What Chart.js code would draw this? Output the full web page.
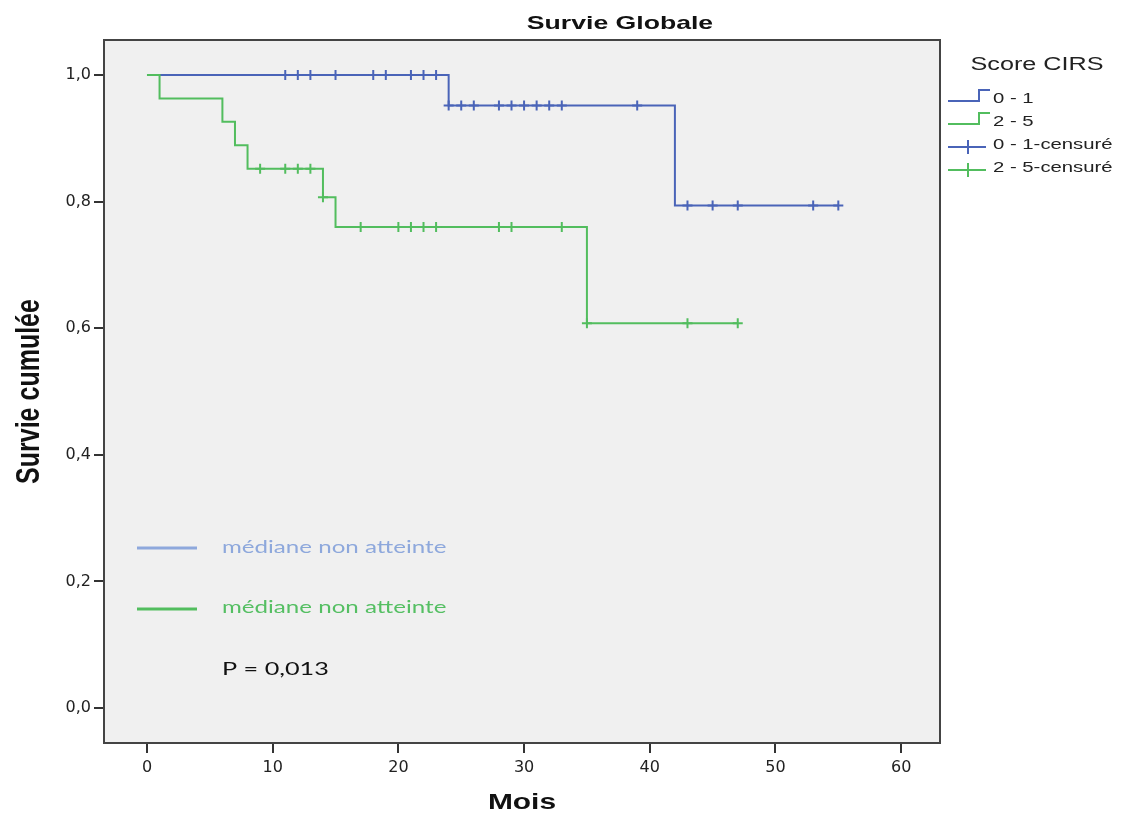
<!DOCTYPE html>
<html>
<head>
<meta charset="utf-8">
<script src="https://cdn.jsdelivr.net/npm/chart.js@4/dist/chart.umd.min.js"></script>
<style>
html,body{margin:0;padding:0;background:#fff;}
#wrap{width:1140px;height:816px;}
</style>
</head>
<body>
<div id="wrap"><canvas id="c" width="1140" height="816"></canvas></div>
<script>
// ---- data ----
const chartTitle = 'Survie Globale';
const xAxisTitle = 'Mois';
const yAxisTitle = 'Survie cumulée';
const xTickValues = [0, 10, 20, 30, 40, 50, 60];
const yTickValues = [0, 0.2, 0.4, 0.6, 0.8, 1.0];
const yTickLabels = ['0,0', '0,2', '0,4', '0,6', '0,8', '1,0'];

const blueEventTimes = [0, 24, 42];
const blueSurvival   = [1.0, 0.952, 0.794];
const blueLastTime   = 55;
const blueCensored   = [11, 12, 13, 15, 18, 19, 21, 22, 23, 24, 25, 26, 28, 29, 30, 31, 32, 33, 39, 43, 45, 47, 53, 55];

const greenEventTimes = [0, 1, 6, 7, 8, 14, 15, 35];
const greenSurvival   = [1.0, 0.963, 0.926, 0.889, 0.852, 0.807, 0.760, 0.608];
const greenLastTime   = 47;
const greenCensored   = [9, 11, 12, 13, 14, 17, 20, 21, 22, 23, 28, 29, 33, 35, 43, 47];

const legendTitle  = 'Score CIRS';
const legendLabels = ['0 - 1', '2 - 5', '0 - 1-censuré', '2 - 5-censuré'];
const medianLabels = ['médiane non atteinte', 'médiane non atteinte'];
const pValueLabel  = 'P = 0,013';

// ---- styles ----
const BLUE = '#4a64b8';
const GREEN = '#52bd5e';
const BLUE_LIGHT = '#8ea8dc';
const GREEN_TXT = '#55bf63';

function survAt(times, surv, t) {
  let s = surv[0];
  for (let i = 0; i < times.length; i++) if (times[i] <= t) s = surv[i];
  return s;
}
function stepData(times, surv, last) {
  const pts = times.map((t, i) => ({x: t, y: surv[i]}));
  pts.push({x: last, y: surv[surv.length - 1]});
  return pts;
}
function censorData(cens, times, surv) {
  return cens.map(t => ({x: t, y: survAt(times, surv, t)}));
}

function txt(ctx, s, x, y, font, color, sx, align, rot) {
  ctx.save();
  ctx.font = font;
  ctx.fillStyle = color;
  ctx.textBaseline = 'middle';
  ctx.textAlign = align || 'left';
  ctx.translate(x, y);
  ctx.scale(sx, 1);
  if (rot) ctx.rotate(rot);
  ctx.fillText(s, 0, 0);
  ctx.restore();
}

const decor = {
  id: 'decor',
  beforeDraw(chart) {
    const {ctx, chartArea: a} = chart;
    ctx.save();
    ctx.fillStyle = '#ffffff';
    ctx.fillRect(0, 0, chart.width, chart.height);
    ctx.fillStyle = '#f0f0f0';
    ctx.fillRect(a.left, a.top, a.right - a.left, a.bottom - a.top);
    ctx.restore();
  },
  afterDraw(chart) {
    const {ctx, chartArea: a} = chart;
    ctx.save();
    ctx.strokeStyle = '#444';
    ctx.lineWidth = 2;
    ctx.strokeRect(a.left, a.top, a.right - a.left, a.bottom - a.top);
    ctx.restore();

    // titles
    txt(ctx, chartTitle, 620, 24, 'bold 19px "Liberation Sans", Arial, sans-serif', '#111', 1.4, 'center');
    txt(ctx, xAxisTitle, (a.left + a.right) / 2, 803, 'bold 22px "Liberation Sans", Arial, sans-serif', '#111', 1.36, 'center');
    txt(ctx, yAxisTitle, 30, (a.top + a.bottom) / 2, 'bold 25px "Liberation Sans", Arial, sans-serif', '#111', 1.35, 'center', -Math.PI / 2);

    // legend
    const lx = a.right + 8;
    txt(ctx, legendTitle, 1037, 65, '18px "Liberation Sans", Arial, sans-serif', '#222', 1.4, 'center');
    const rows = [99, 122, 145, 168];
    const cols = [BLUE, GREEN, BLUE, GREEN];
    ctx.save();
    ctx.lineWidth = 2;
    for (let i = 0; i < 4; i++) {
      const y = rows[i];
      ctx.strokeStyle = cols[i];
      ctx.beginPath();
      if (i < 2) {
        ctx.moveTo(lx, y + 2); ctx.lineTo(979, y + 2); ctx.lineTo(979, y - 9); ctx.lineTo(990, y - 9);
      } else {
        ctx.moveTo(lx, y + 2); ctx.lineTo(986, y + 2);
        ctx.moveTo(968, y - 5); ctx.lineTo(968, y + 9);
      }
      ctx.stroke();
      txt(ctx, legendLabels[i], 993, y, '14.5px "Liberation Sans", Arial, sans-serif', '#222', 1.4, 'left');
    }
    // median annotations
    ctx.lineWidth = 3;
    ctx.strokeStyle = BLUE_LIGHT;
    ctx.beginPath(); ctx.moveTo(137, 548); ctx.lineTo(197, 548); ctx.stroke();
    ctx.strokeStyle = GREEN;
    ctx.beginPath(); ctx.moveTo(137, 609); ctx.lineTo(197, 609); ctx.stroke();
    ctx.restore();
    txt(ctx, medianLabels[0], 222, 547, '18px Lato, "Open Sans", sans-serif', BLUE_LIGHT, 1.34, 'left');
    txt(ctx, medianLabels[1], 222, 607, '18px Lato, "Open Sans", sans-serif', GREEN_TXT, 1.34, 'left');
    txt(ctx, pValueLabel, 222, 669, '18px Lato, "Open Sans", sans-serif', '#111', 1.4, 'left');
  }
};

new Chart(document.getElementById('c'), {
  type: 'scatter',
  data: {
    datasets: [
      {label: '2 - 5-censuré', data: censorData(greenCensored, greenEventTimes, greenSurvival), showLine: false,
       pointStyle: 'cross', pointRadius: 5, pointBorderWidth: 2, borderColor: GREEN, backgroundColor: GREEN, order: 1},
      {label: '2 - 5', data: stepData(greenEventTimes, greenSurvival, greenLastTime), showLine: true, stepped: 'before',
       pointRadius: 0, borderWidth: 2, borderColor: GREEN, order: 2},
      {label: '0 - 1-censuré', data: censorData(blueCensored, blueEventTimes, blueSurvival), showLine: false,
       pointStyle: 'cross', pointRadius: 5, pointBorderWidth: 2, borderColor: BLUE, backgroundColor: BLUE, order: 3},
      {label: '0 - 1', data: stepData(blueEventTimes, blueSurvival, blueLastTime), showLine: true, stepped: 'before',
       pointRadius: 0, borderWidth: 2, borderColor: BLUE, order: 4}
    ]
  },
  options: {
    responsive: false,
    animation: false,
    events: [],
    layout: {padding: {left: 0, top: 40, right: 200, bottom: 0}},
    plugins: {legend: {display: false}, title: {display: false}, tooltip: {enabled: false}},
    scales: {
      x: {
        type: 'linear', min: -3.42, max: 63.09,
        afterBuildTicks(s) { s.ticks = xTickValues.map(v => ({value: v})); },
        afterFit(s) { s.height = 73; },
        border: {display: false},
        grid: {drawOnChartArea: false, drawTicks: true, tickLength: 10, tickColor: '#333', lineWidth: 2},
        ticks: {padding: 5, color: '#222', font: {family: '"DejaVu Sans", sans-serif', size: 16}, maxRotation: 0,
                callback: v => String(v)}
      },
      y: {
        type: 'linear', min: -0.0553, max: 1.0553,
        afterBuildTicks(s) { s.ticks = yTickValues.map(v => ({value: v})); },
        afterFit(s) { s.width = 104; },
        border: {display: false},
        grid: {drawOnChartArea: false, drawTicks: true, tickLength: 10, tickColor: '#333', lineWidth: 2},
        ticks: {padding: 3, color: '#222', font: {family: '"DejaVu Sans", sans-serif', size: 16},
                callback: v => { const i = yTickValues.findIndex(t => Math.abs(t - v) < 1e-6); return i >= 0 ? yTickLabels[i] : ''; }}
      }
    }
  },
  plugins: [decor]
});
</script>
</body>
</html>
